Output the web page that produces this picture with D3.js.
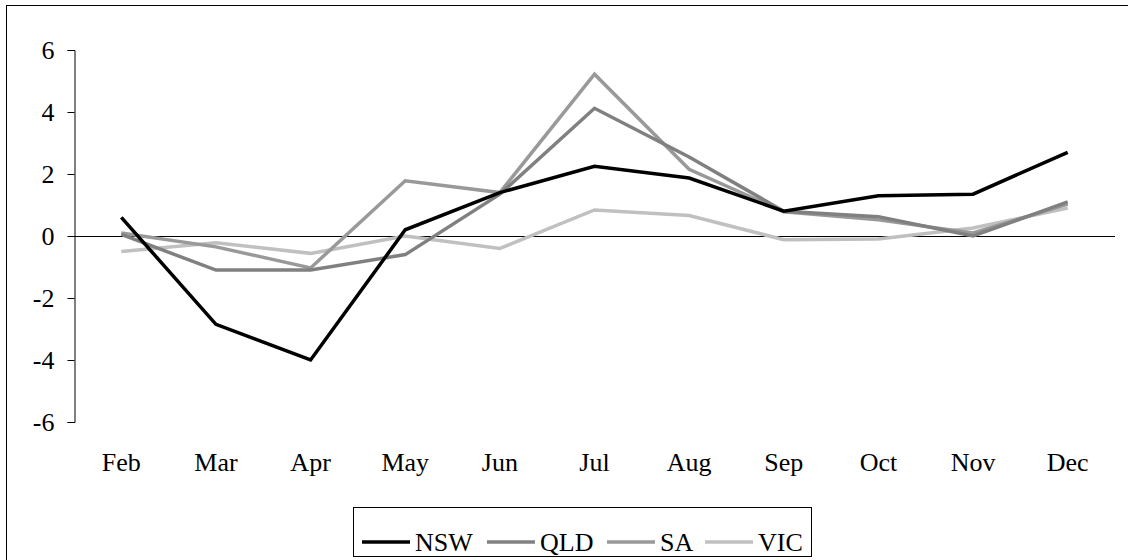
<!DOCTYPE html>
<html>
<head>
<meta charset="utf-8">
<script src="https://cdn.jsdelivr.net/npm/d3@7"></script>
<style>
    body { margin: 0; background: #fff; }
    svg text { font-family: "Liberation Serif", "Times New Roman", serif; fill: #000; }
</style>
</head>
<body>
<svg id="chart" width="1128" height="560"></svg>
<script>
(function () {
    'use strict';

    let months = ['Feb', 'Mar', 'Apr', 'May', 'Jun', 'Jul', 'Aug', 'Sep', 'Oct', 'Nov', 'Dec'];
    let yTicks = [-6, -4, -2, 0, 2, 4, 6];

    let nsw = [0.6, -2.85, -4.0, 0.2, 1.4, 2.25, 1.87, 0.8, 1.3, 1.35, 2.7];
    let qld = [0.05, -1.1, -1.1, -0.6, 1.35, 4.12, 2.55, 0.8, 0.62, 0.0, 1.1];
    let sa  = [0.1, -0.35, -1.03, 1.78, 1.4, 5.22, 2.15, 0.78, 0.52, 0.1, 1.03];
    let vic = [-0.5, -0.22, -0.56, 0.0, -0.4, 0.84, 0.66, -0.12, -0.1, 0.26, 0.9];

    let seriesNames = ['NSW', 'QLD', 'SA', 'VIC'];
    let seriesValues = [nsw, qld, sa, vic];
    let seriesColors = ['#000000', '#808080', '#999999', '#c0c0c0'];

    let fontSize = 26;
    let svg = d3.select('#chart');

    // outer chart frame (runs off the right / bottom edge)
    svg.append('rect')
        .attr('x', 6.5).attr('y', 5.5)
        .attr('width', 1130).attr('height', 560)
        .attr('fill', 'none')
        .attr('stroke', '#000')
        .attr('stroke-width', 1);

    let x = d3.scaleBand()
        .domain(months)
        .range([74, 1115]);
    let y = d3.scaleLinear()
        .domain([-6, 6])
        .range([422, 50]);

    let yAxis = d3.axisLeft(y)
        .tickValues(yTicks)
        .tickSize(7)
        .tickPadding(13)
        .tickFormat(function (d) { return String(d); });

    let yAxisG = svg.append('g')
        .attr('transform', 'translate(74.5,0)')
        .call(yAxis);
    yAxisG.attr('font-family', null).attr('font-size', null);
    yAxisG.select('.domain').attr('stroke', '#000');
    yAxisG.selectAll('.tick line').attr('stroke', '#000');
    yAxisG.selectAll('text')
        .style('font-size', fontSize + 'px')
        .attr('dy', '0.34em');

    // zero line
    svg.append('line')
        .attr('x1', 74).attr('x2', 1115)
        .attr('y1', Math.round(y(0)) + 0.5).attr('y2', Math.round(y(0)) + 0.5)
        .attr('stroke', '#000')
        .attr('stroke-width', 1);

    // month labels
    svg.append('g')
        .selectAll('text')
        .data(months)
        .enter()
        .append('text')
        .attr('x', function (d) { return x(d) + x.bandwidth() / 2; })
        .attr('y', 471)
        .attr('text-anchor', 'middle')
        .style('font-size', fontSize + 'px')
        .text(function (d) { return d; });

    let line = d3.line()
        .x(function (d, i) { return x(months[i]) + x.bandwidth() / 2; })
        .y(function (d) { return y(d); });

    // draw from last to first so NSW sits on top
    for (let s = seriesValues.length - 1; s >= 0; s--) {
        svg.append('path')
            .datum(seriesValues[s])
            .attr('d', line)
            .attr('fill', 'none')
            .attr('stroke', seriesColors[s])
            .attr('stroke-width', 3.5)
            .attr('stroke-linejoin', 'miter');
    }

    // legend
    let legend = svg.append('g');
    legend.append('rect')
        .attr('x', 353.5).attr('y', 507.5)
        .attr('width', 458).attr('height', 49)
        .attr('fill', '#fff')
        .attr('stroke', '#000');

    let legendX = [362, 487, 607, 705];
    let items = legend.selectAll('g.item')
        .data(seriesNames)
        .enter()
        .append('g')
        .attr('class', 'item')
        .attr('transform', function (d, i) { return 'translate(' + legendX[i] + ',542)'; });
    items.append('line')
        .attr('x1', 0).attr('x2', 48)
        .attr('y1', 0).attr('y2', 0)
        .attr('stroke', function (d, i) { return seriesColors[i]; })
        .attr('stroke-width', 3.5);
    items.append('text')
        .attr('x', 53)
        .attr('y', 9)
        .style('font-size', fontSize + 'px')
        .text(function (d) { return d; });
})();
</script>
</body>
</html>
